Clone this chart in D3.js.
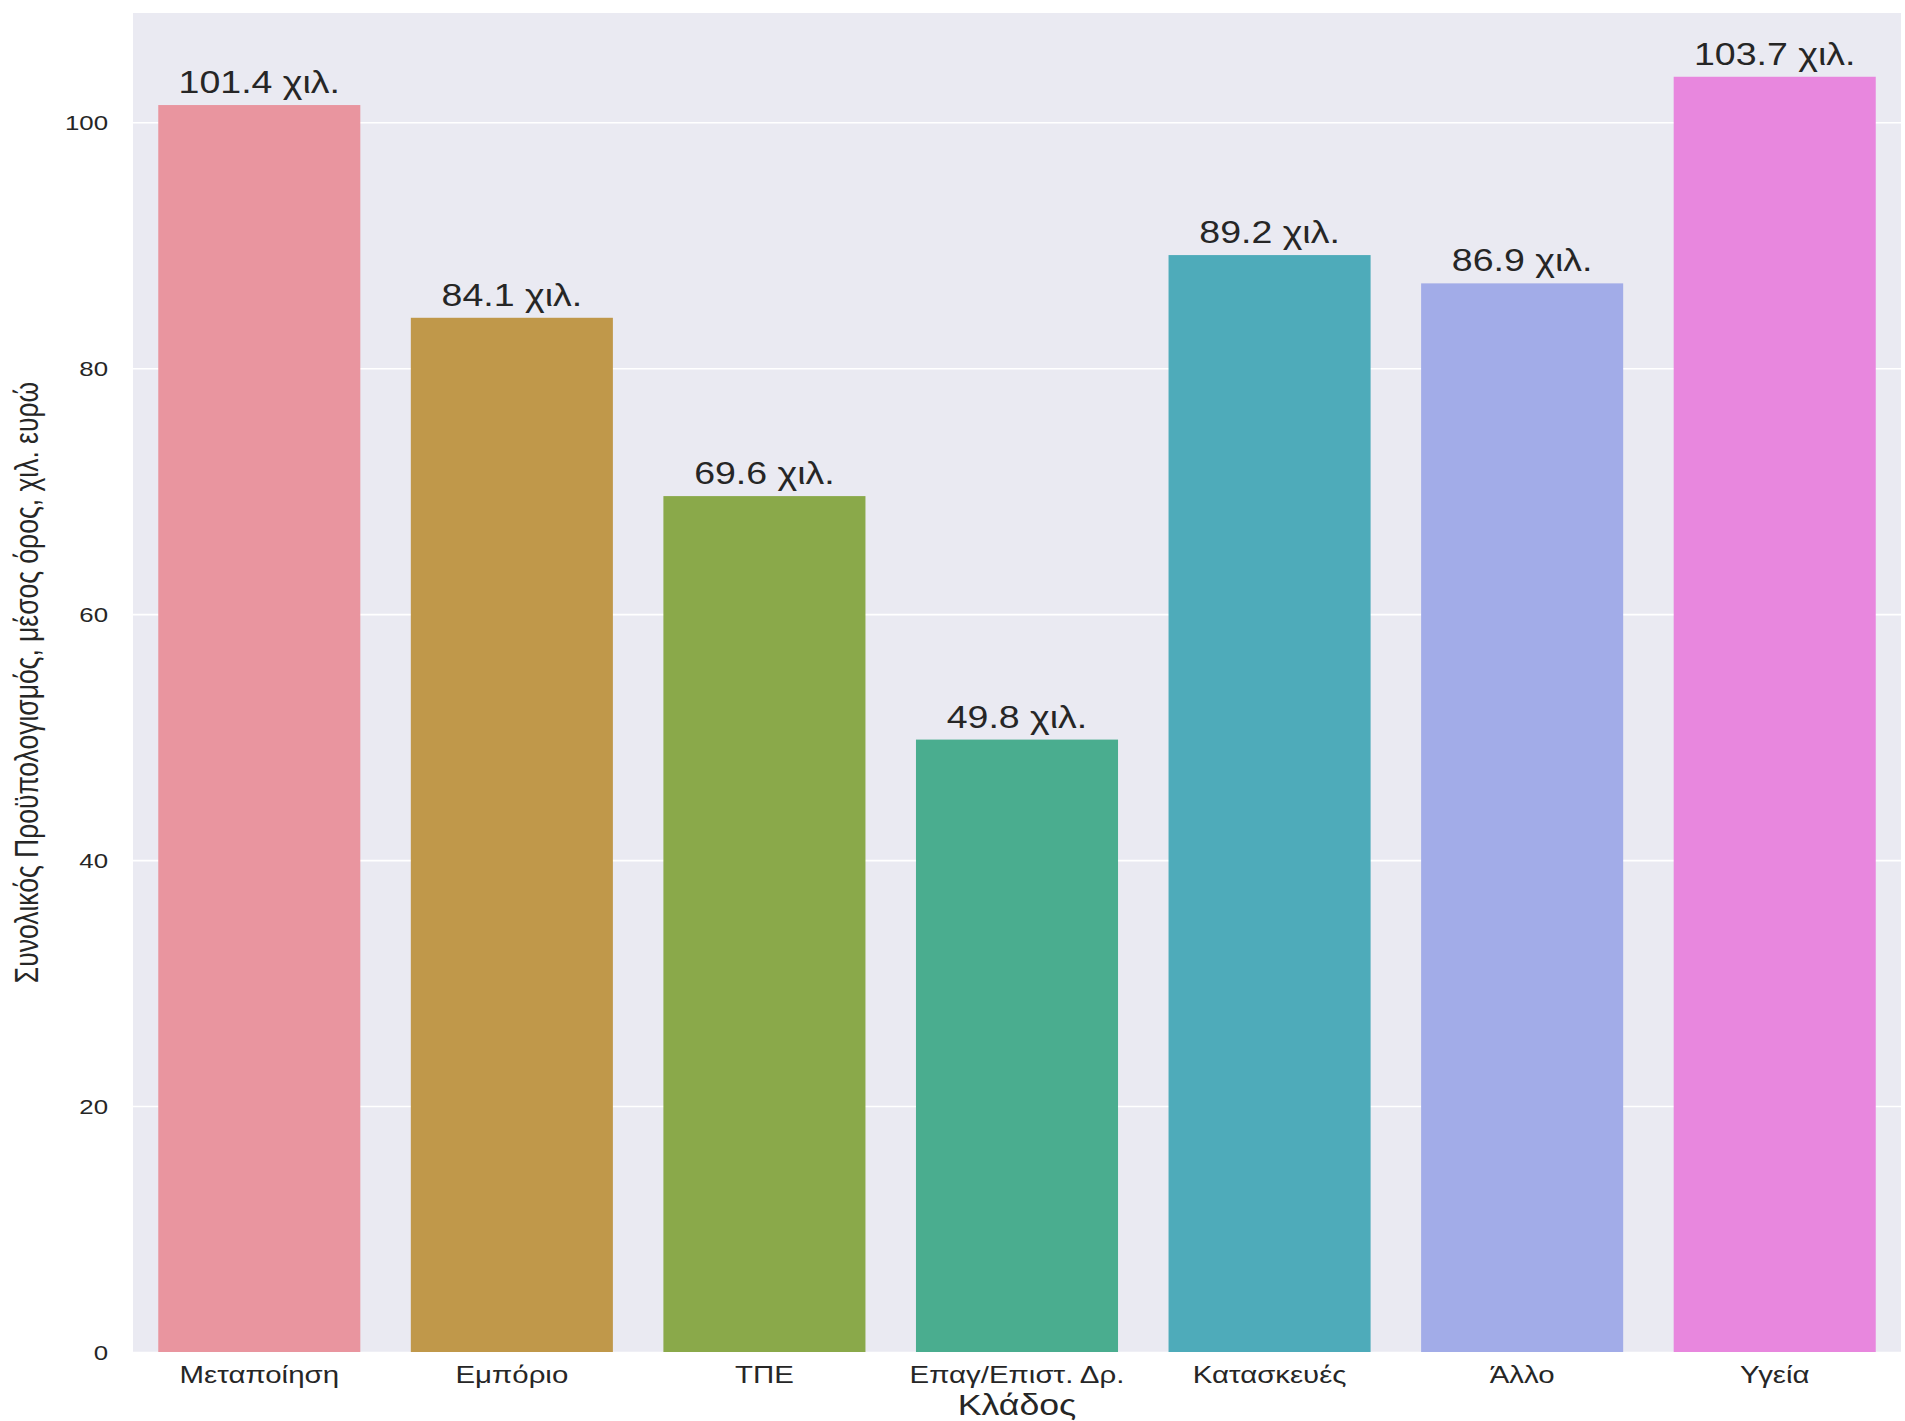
<!DOCTYPE html>
<html>
<head>
<meta charset="utf-8">
<script src="https://cdn.jsdelivr.net/npm/d3@7"></script>
<style>
  html, body { margin: 0; padding: 0; background: #ffffff; }
  svg { display: block; }
  text { font-family: "Liberation Sans", Arial, sans-serif; fill: #262626; }
</style>
</head>
<body>
<svg id="chart" width="1905" height="1421"></svg>
<script>
const categories = ["Μεταποίηση", "Εμπόριο", "ΤΠΕ", "Επαγ/Επιστ. Δρ.", "Κατασκευές", "Άλλο", "Υγεία"];
const values = [101.4, 84.1, 69.6, 49.8, 89.2, 86.9, 103.7];
const valueLabels = ["101.4 χιλ.", "84.1 χιλ.", "69.6 χιλ.", "49.8 χιλ.", "89.2 χιλ.", "86.9 χιλ.", "103.7 χιλ."];
const colors = ["#e9959f", "#c0984a", "#8aa94a", "#4aad8f", "#4eabba", "#a2ace8", "#e887de"];
const yTicks = [0, 20, 40, 60, 80, 100];
const xTitle = "Κλάδος";
const yTitle = "Συνολικός Προϋπολογισμός, μέσος όρος, χιλ. ευρώ";

const svg = d3.select("#chart");
const margin = {left: 133, top: 13, right: 4, bottom: 69};
const W = 1905 - margin.left - margin.right;
const H = 1421 - margin.top - margin.bottom;
const S = 1.23; // horizontal stretch of glyphs in the reference

const x = d3.scaleBand().domain(categories).range([0, W]).paddingInner(0.2).paddingOuter(0.1);
const yMax = d3.max(values) * 1.05;
const y = d3.scaleLinear().domain([0, yMax]).range([H, 0]);

const g = svg.append("g").attr("transform", `translate(${margin.left},${margin.top})`);

g.append("rect").attr("x", 0).attr("y", 0).attr("width", W).attr("height", H).attr("fill", "#eaeaf2");

// grid
const yAxis = d3.axisLeft(y).tickValues(yTicks).tickSize(-W).tickPadding(0).tickFormat(d3.format("d"));
const ya = g.append("g").call(yAxis);
ya.select(".domain").remove();
ya.selectAll(".tick line").attr("stroke", "#ffffff").attr("stroke-width", 1.6);
ya.selectAll(".tick text")
  .attr("font-size", 21)
  .attr("text-anchor", "end")
  .attr("x", null)
  .attr("dy", null)
  .attr("dominant-baseline", "central")
  .attr("fill", "#262626")
  .attr("transform", `translate(-25,0) scale(${S},1)`);

// bars
g.selectAll("rect.bar").data(categories).enter().append("rect")
  .attr("class", "bar")
  .attr("x", d => x(d))
  .attr("width", x.bandwidth())
  .attr("y", (d, i) => y(values[i]))
  .attr("height", (d, i) => H - y(values[i]))
  .attr("fill", (d, i) => colors[i]);

// value labels
g.selectAll("text.vl").data(categories).enter().append("text")
  .attr("class", "vl")
  .attr("text-anchor", "middle")
  .attr("font-size", 30.5)
  .attr("transform", (d, i) => `translate(${x(d) + x.bandwidth() / 2},${y(values[i]) - 12}) scale(${S},1)`)
  .text((d, i) => valueLabels[i]);

// x axis
const xAxis = d3.axisBottom(x).tickSize(0).tickPadding(0);
const xa = g.append("g").attr("transform", `translate(0,${H})`).call(xAxis);
xa.select(".domain").remove();
xa.selectAll(".tick text")
  .attr("font-size", 23)
  .attr("y", null)
  .attr("dy", null)
  .attr("fill", "#262626")
  .attr("transform", `translate(0,31) scale(${S * 1.04},1)`);

// axis titles
svg.append("text")
  .attr("text-anchor", "middle")
  .attr("font-size", 29)
  .attr("transform", `translate(${margin.left + W / 2},${1415}) scale(${S},1)`)
  .text(xTitle);

svg.append("text")
  .attr("text-anchor", "middle")
  .attr("font-size", 26.5)
  .attr("transform", `translate(38,${margin.top + H / 2}) rotate(-90) scale(1,${S})`)
  .text(yTitle);
</script>
</body>
</html>
